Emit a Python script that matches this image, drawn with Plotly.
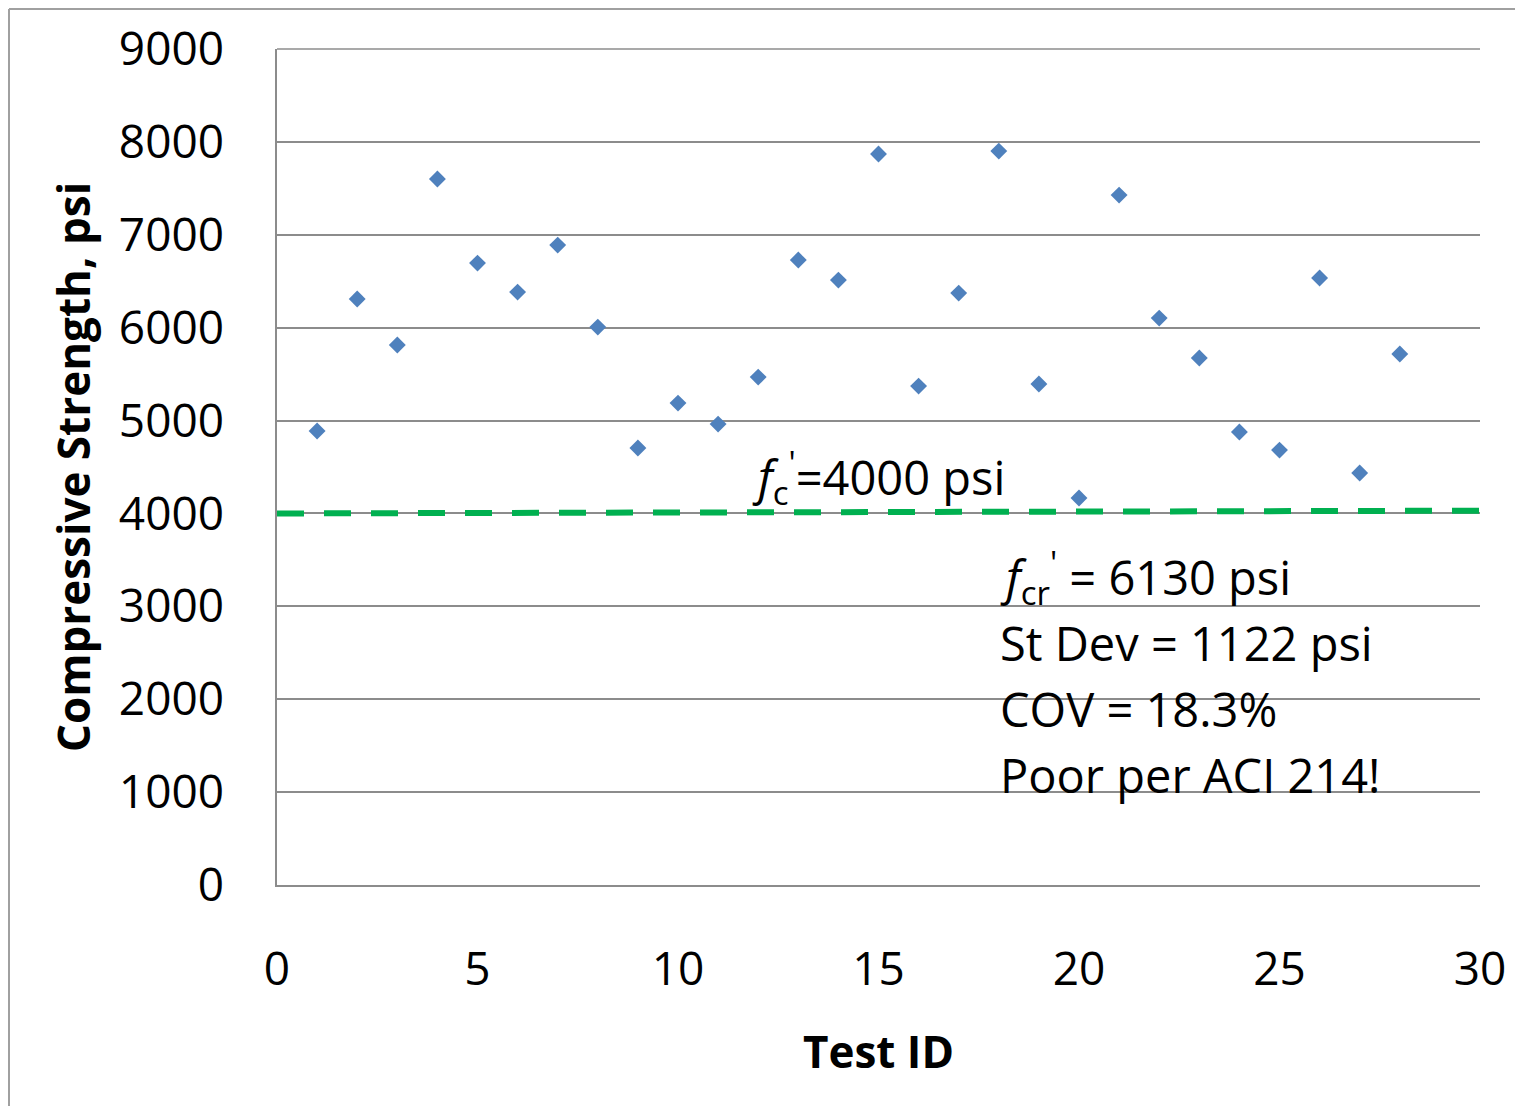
import plotly.graph_objects as go

test_id = list(range(1, 29))
strength = [4887, 6308, 5813, 7600, 6695, 6383, 6889, 6006, 4704, 5188,
            4962, 5468, 6728, 6512, 7869, 5371, 6372, 7901, 5393, 4166,
            7427, 6103, 5673, 4876, 4682, 6534, 4435, 5716]
fc_x = [0, 30]
fc_y = [4000, 4030]

stats_lines = ["<i>f</i><sub>cr</sub><sup>'</sup> = 6130 psi",
               "St Dev = 1122 psi",
               "COV = 18.3%",
               "Poor per ACI 214!"]

FONT = "Open Sans"
OFF = 8  # page body margin
W, H = 1523 - OFF, 1106 - OFF
L, R, T, B = 277, 1480, 49, 885  # plot area (page px)

def px(x):
    return (x - L) / (R - L)

def py(y):
    return (B - y) / (B - T)

fig = go.Figure()
fig.add_trace(go.Scatter(x=fc_x, y=fc_y, mode="lines",
                         line=dict(color="#00B050", width=6, dash="27px,20px"),
                         hoverinfo="skip", showlegend=False))
fig.add_trace(go.Scatter(x=test_id, y=strength, mode="markers",
                         marker=dict(symbol="diamond", size=13, color="#4F81BD"),
                         showlegend=False))

fig.add_annotation(x=px(750), y=py(478), xref="paper", yref="paper",
                   xanchor="left", yanchor="middle", showarrow=False,
                   text="<i>f</i><sub>c</sub><sup>'</sup>=4000 psi",
                   font=dict(family=FONT, size=47, color="black"))
for i, t in enumerate(stats_lines):
    fig.add_annotation(x=px(998), y=py(577 + 66 * i), xref="paper", yref="paper",
                       xanchor="left", yanchor="middle", showarrow=False,
                       text=t, font=dict(family=FONT, size=47, color="black"))

# top border of plot area (matches the 9000 gridline)
fig.add_shape(type="line", xref="paper", yref="paper", x0=0, x1=1, y0=1, y1=1,
              line=dict(color="#8C8C8C", width=1.5))
# outer frame lines
fig.add_shape(type="line", xref="paper", yref="paper",
              x0=px(9), x1=px(9), y0=py(9), y1=py(1106),
              line=dict(color="#A0A0A0", width=2))
fig.add_shape(type="line", xref="paper", yref="paper",
              x0=px(9), x1=px(1523), y0=py(9), y1=py(9),
              line=dict(color="#A0A0A0", width=2))

fig.update_layout(
    width=W, height=H,
    margin=dict(l=L - OFF, r=1523 - R, t=T - OFF, b=1106 - B),
    paper_bgcolor="white", plot_bgcolor="white",
    font=dict(family=FONT, color="black"),
    xaxis=dict(range=[0, 30], tickvals=[0, 5, 10, 15, 20, 25, 30],
               showgrid=False, zeroline=False, automargin=False,
               showline=True, linecolor="#8C8C8C", linewidth=1.5,
               ticks="", tickfont=dict(size=46), ticklabelstandoff=43,
               title=dict(text="<b>Test ID</b>", font=dict(size=44), standoff=40)),
    yaxis=dict(range=[0, 9000], tickvals=list(range(0, 9001, 1000)),
               showgrid=True, gridcolor="#8C8C8C", gridwidth=1.5, automargin=False,
               zeroline=False, showline=True, linecolor="#8C8C8C", linewidth=1.5,
               ticks="", tickfont=dict(size=46), ticklabelstandoff=42,
               title=dict(text="<b>Compressive Strength, psi</b>", font=dict(size=44), standoff=14)),
)

fig.write_html("out.html")
